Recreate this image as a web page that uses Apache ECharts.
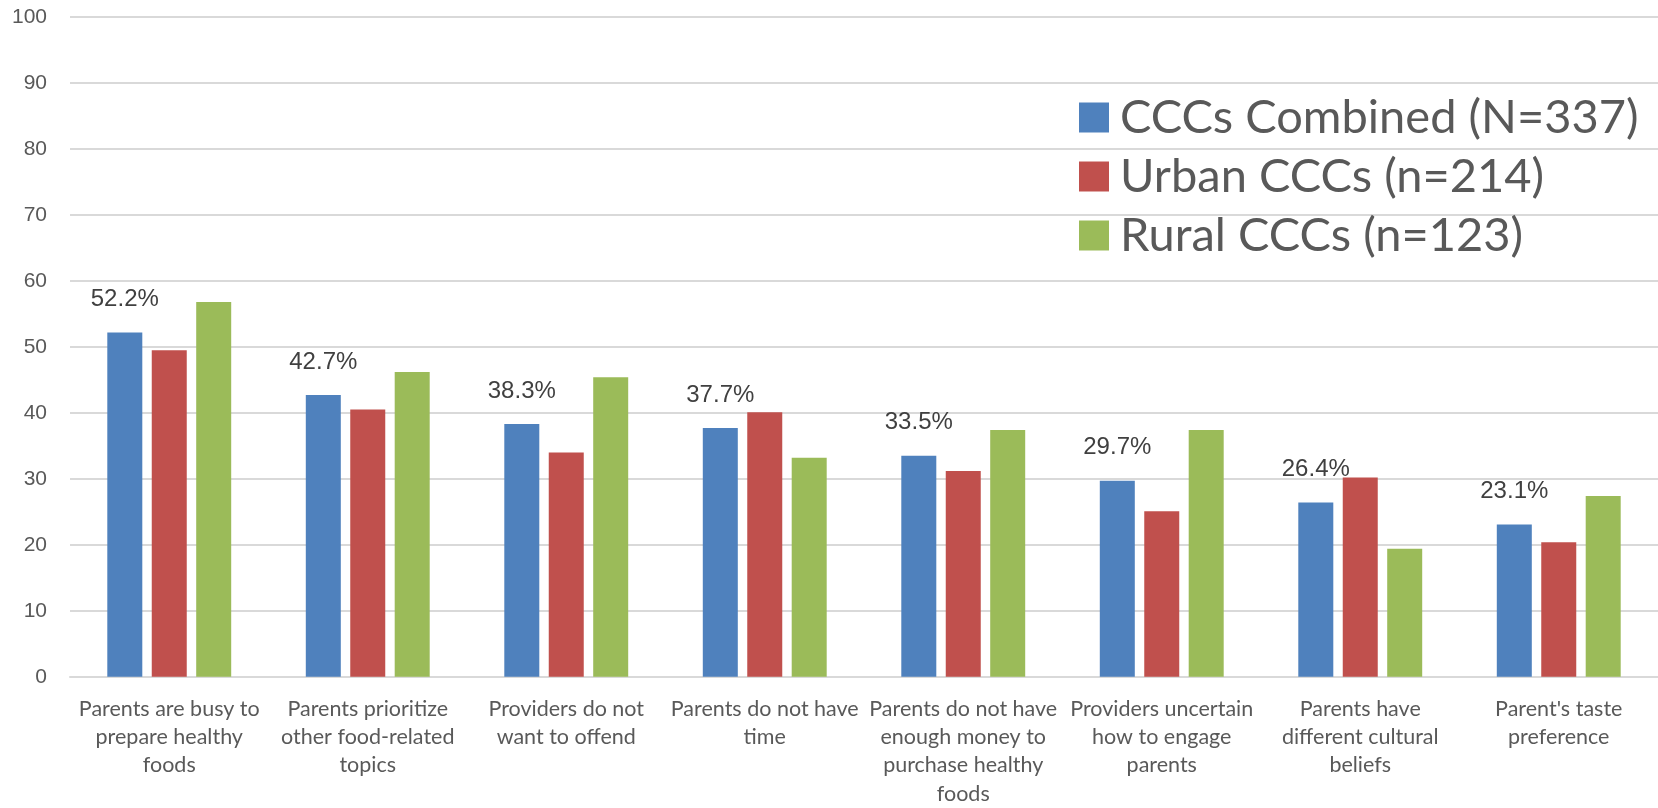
<!DOCTYPE html>
<html>
<head>
<meta charset="utf-8">
<script src="https://cdn.jsdelivr.net/npm/echarts@6/dist/echarts.min.js"></script>
<style>
  html, body { margin: 0; padding: 0; background: #ffffff; }
  #chart { width: 1658px; height: 808px; }
</style>
</head>
<body>
<div id="chart"></div>
<script>
// Barriers reported by child care centers (percent of respondents)
const categories = [
  "Parents are busy to\nprepare healthy\nfoods",
  "Parents prioritize\nother food-related\ntopics",
  "Providers do not\nwant to offend",
  "Parents do not have\ntime",
  "Parents do not have\nenough money to\npurchase healthy\nfoods",
  "Providers uncertain\nhow to engage\nparents",
  "Parents have\ndifferent cultural\nbeliefs",
  "Parent's taste\npreference"
];

const seriesNames = [
  "CCCs Combined (N=337)",
  "Urban CCCs (n=214)",
  "Rural CCCs (n=123)"
];

const combined = [52.2, 42.7, 38.3, 37.7, 33.5, 29.7, 26.4, 23.1];
const urban    = [49.5, 40.5, 34.0, 40.1, 31.2, 25.1, 30.2, 20.4];
const rural    = [56.8, 46.2, 45.4, 33.2, 37.4, 37.4, 19.4, 27.4];

const yTicks = { min: 0, max: 100, interval: 10 };

const colors = ["#4f81bd", "#c0504d", "#9bbb59"];

const chart = echarts.init(document.getElementById("chart"), null, { renderer: "canvas" });

function barSeries(name, data, color, withLabel) {
  return {
    name: name,
    type: "bar",
    data: data,
    barWidth: 35,
    barGap: "27%",
    itemStyle: { color: color },
    label: withLabel ? {
      show: true,
      position: "top",
      distance: 21,
      formatter: p => p.value.toFixed(1) + "%",
      fontFamily: "Liberation Sans, Arial, sans-serif",
      fontSize: 24,
      color: "#404040"
    } : { show: false },
    emphasis: { disabled: true }
  };
}

chart.setOption({
  animation: false,
  backgroundColor: "#ffffff",
  color: colors,
  grid: { left: 70, top: 17, bottom: 129, width: 1590, containLabel: false },
  legend: {
    orient: "vertical",
    left: 1074,
    top: 89,
    icon: "rect",
    itemWidth: 30,
    itemHeight: 30,
    itemGap: 12,
    selectedMode: false,
    data: seriesNames,
    textStyle: {
      fontFamily: "Lato, sans-serif",
      fontSize: 47,
      lineHeight: 47,
      color: "#595959",
      padding: [0, 0, 0, 6]
    }
  },
  xAxis: {
    type: "category",
    data: categories,
    axisLine: { show: true, lineStyle: { color: "#d9d9d9", width: 2 } },
    axisTick: { show: false },
    axisLabel: {
      interval: 0,
      margin: 18,
      fontFamily: "Lato, sans-serif",
      fontSize: 21.5,
      lineHeight: 28.3,
      color: "#595959",
      align: "center",
      verticalAlign: "top"
    }
  },
  yAxis: {
    type: "value",
    min: yTicks.min,
    max: yTicks.max,
    interval: yTicks.interval,
    axisLine: { show: false },
    axisTick: { show: false },
    splitLine: { lineStyle: { color: "#d9d9d9", width: 2 } },
    axisLabel: {
      margin: 23,
      fontFamily: "Liberation Sans, Arial, sans-serif",
      fontSize: 21,
      color: "#595959"
    }
  },
  series: [
    barSeries(seriesNames[0], combined, colors[0], true),
    barSeries(seriesNames[1], urban, colors[1], false),
    barSeries(seriesNames[2], rural, colors[2], false)
  ]
});
</script>
</body>
</html>
